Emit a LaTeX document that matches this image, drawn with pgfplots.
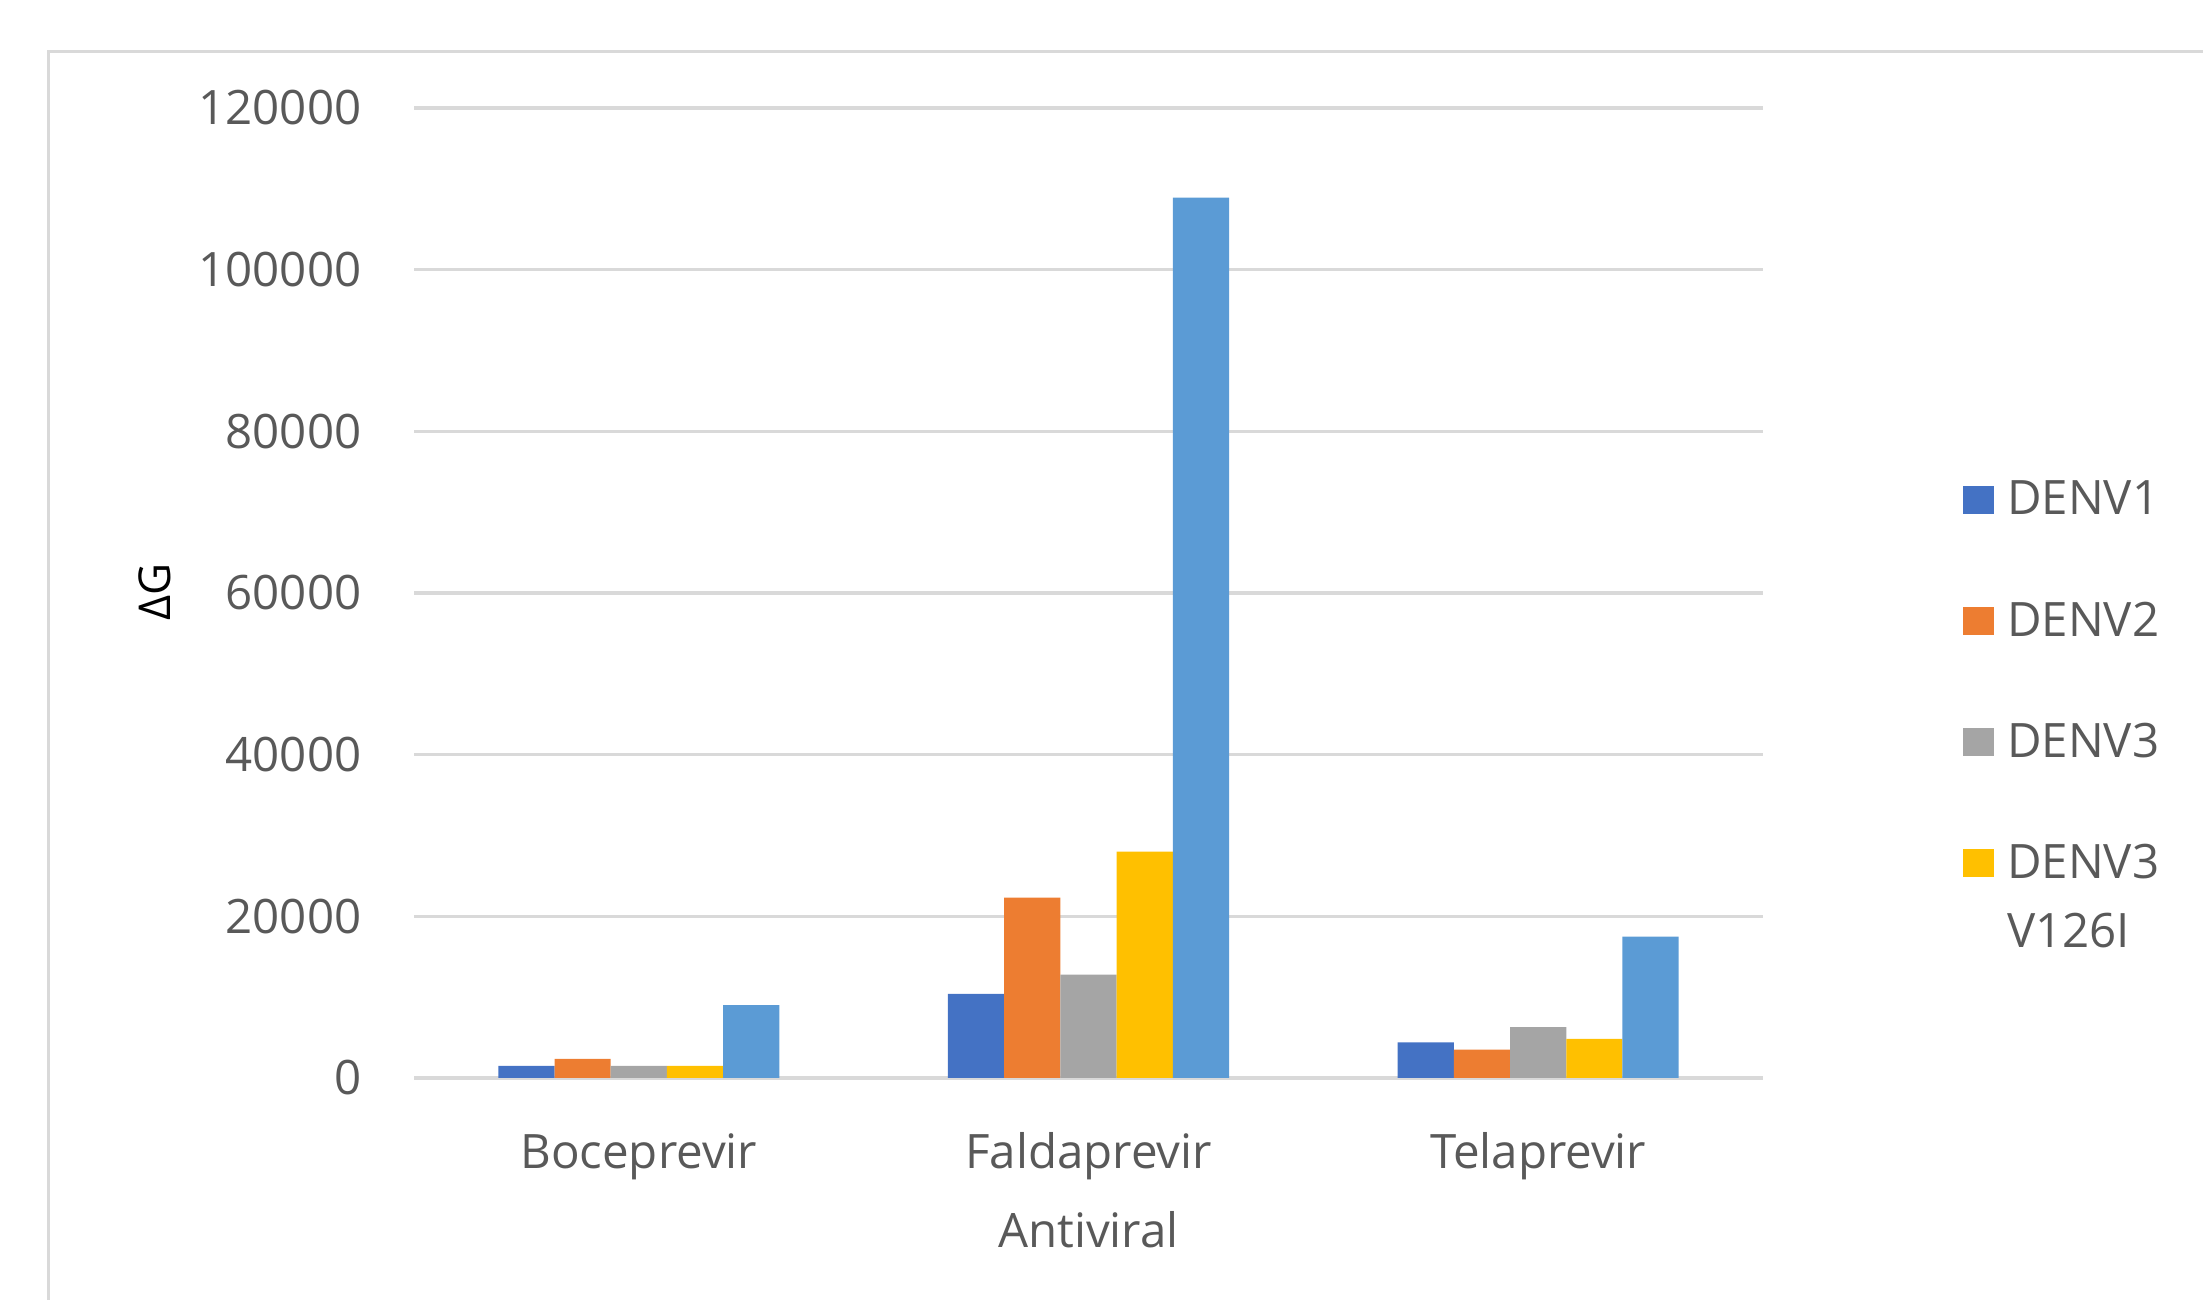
\documentclass[border=0pt]{standalone}
\usepackage{pgfplots}
\pgfplotsset{compat=1.18}
\usepackage{fontspec}
\setmainfont{Open Sans}
\definecolor{cA}{HTML}{4472C4}
\definecolor{cB}{HTML}{ED7D31}
\definecolor{cC}{HTML}{A5A5A5}
\definecolor{cD}{HTML}{FFC000}
\definecolor{cE}{HTML}{5B9BD5}
\definecolor{gridc}{HTML}{D9D9D9}
\definecolor{txt}{HTML}{595959}
\pgfplotsset{
  mybar/.style={ybar, bar width=0.125, fill=#1, draw=none,
    legend image code/.code={\fill[#1] (0mm,-1.3mm) rectangle (3.1mm,1.5mm);}},
}
\begin{document}
\begin{tikzpicture}
\useasboundingbox (0,0) rectangle (220.3mm,130mm);
\draw[gridc, line width=0.3mm] (4.8mm,-5mm) -- (4.8mm,124.8mm) -- (230mm,124.8mm);
\begin{axis}[
  at={(41.4mm,22.2mm)}, anchor=south west,
  scale only axis, width=134.9mm, height=97mm,
  xmin=-0.5, xmax=2.5, ymin=0, ymax=120000,
  enlargelimits=false, clip=false,
  xtick={0,1,2}, xticklabels={Boceprevir,Faldaprevir,Telaprevir},
  ytick={0,20000,40000,60000,80000,100000,120000},
  scaled y ticks=false,
  /pgf/number format/fixed,
  /pgf/number format/1000 sep={},
  /pgf/number format/assume math mode=true,
  major tick length=0pt,
  ymajorgrids, grid style={gridc, line width=0.35mm},
  separate axis lines,
  axis x line*=bottom, axis y line*=left,
  y axis line style={draw=none},
  x axis line style={draw=gridc, line width=0.35mm},
  tick label style={font=\fontsize{13.5}{16}\selectfont, text=txt, inner sep=0pt},
  yticklabel style={anchor=east, xshift=-5.2mm},
  xticklabel style={anchor=base, yshift=-9.1mm},
  xlabel={Antiviral},
  xlabel style={at={(axis description cs:0.5,0)}, anchor=base, yshift=-17mm, inner sep=0pt,
    font=\fontsize{13.5}{16}\selectfont, text=txt},
  ylabel={ΔG},
  ylabel style={at={(axis description cs:-0.192,0.501)}, anchor=center, rotate=0,
    font=\fontsize{12.5}{15}\selectfont, text=black},
  legend style={at={(axis description cs:1.1483,0.6155)}, anchor=north west,
    draw=none, fill=none, inner sep=0pt, outer sep=0pt,
    column sep=1.3mm, row sep=8.17mm,
    nodes={inner sep=0pt, outer sep=0pt},
    font=\fontsize{13.5}{19.6}\selectfont, text=txt},
  legend cell align=left,
]
\addplot[mybar=cA, bar shift=-0.25] coordinates {(0,1500) (1,10400) (2,4400)};
\addplot[mybar=cB, bar shift=-0.125] coordinates {(0,2350) (1,22300) (2,3500)};
\addplot[mybar=cC, bar shift=0] coordinates {(0,1500) (1,12800) (2,6300)};
\addplot[mybar=cD, bar shift=0.125] coordinates {(0,1500) (1,28000) (2,4850)};
\addplot[mybar=cE, bar shift=0.25, forget plot] coordinates {(0,9000) (1,108900) (2,17500)};
\legend{DENV1,DENV2,DENV3,{\vtop{\hbox{DENV3}\hbox{V126I}}}}
\end{axis}
\end{tikzpicture}
\end{document}
